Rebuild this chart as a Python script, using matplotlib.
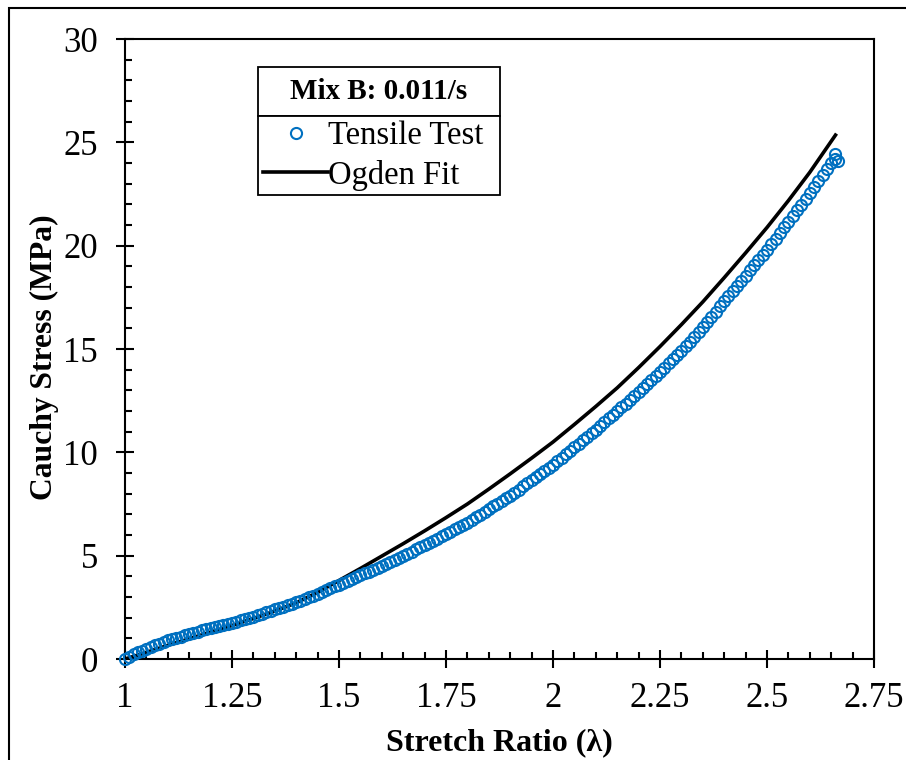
import matplotlib
matplotlib.use("Agg")
import matplotlib.pyplot as plt
from matplotlib.patches import Rectangle
from matplotlib.ticker import MultipleLocator

plt.rcParams["font.family"] = ["Liberation Serif", "DejaVu Serif"]

# tensile test (stretch ratio, cauchy stress MPa)
lam_test = [
    1.00, 1.01, 1.02, 1.03, 1.04, 1.05, 1.06, 1.07, 1.08, 1.09,
    1.10, 1.11, 1.12, 1.13, 1.14, 1.15, 1.16, 1.17, 1.18, 1.19,
    1.20, 1.21, 1.22, 1.23, 1.24, 1.25, 1.26, 1.27, 1.28, 1.29,
    1.30, 1.31, 1.32, 1.33, 1.34, 1.35, 1.36, 1.37, 1.38, 1.39,
    1.40, 1.41, 1.42, 1.43, 1.44, 1.45, 1.46, 1.47, 1.48, 1.49,
    1.50, 1.51, 1.52, 1.53, 1.54, 1.55, 1.56, 1.57, 1.58, 1.59,
    1.60, 1.61, 1.62, 1.63, 1.64, 1.65, 1.66, 1.67, 1.68, 1.69,
    1.70, 1.71, 1.72, 1.73, 1.74, 1.75, 1.76, 1.77, 1.78, 1.79,
    1.80, 1.81, 1.82, 1.83, 1.84, 1.85, 1.86, 1.87, 1.88, 1.89,
    1.90, 1.91, 1.92, 1.93, 1.94, 1.95, 1.96, 1.97, 1.98, 1.99,
    2.00, 2.01, 2.02, 2.03, 2.04, 2.05, 2.06, 2.07, 2.08, 2.09,
    2.10, 2.11, 2.12, 2.13, 2.14, 2.15, 2.16, 2.17, 2.18, 2.19,
    2.20, 2.21, 2.22, 2.23, 2.24, 2.25, 2.26, 2.27, 2.28, 2.29,
    2.30, 2.31, 2.32, 2.33, 2.34, 2.35, 2.36, 2.37, 2.38, 2.39,
    2.40, 2.41, 2.42, 2.43, 2.44, 2.45, 2.46, 2.47, 2.48, 2.49,
    2.50, 2.51, 2.52, 2.53, 2.54, 2.55, 2.56, 2.57, 2.58, 2.59,
    2.60, 2.61, 2.62, 2.63, 2.64, 2.65, 2.66, 2.66, 2.665,
]
stress_test = [
    0.00, 0.12, 0.22, 0.32, 0.41, 0.50, 0.58, 0.66, 0.74, 0.82,
    0.90, 0.96, 1.02, 1.08, 1.14, 1.20, 1.26, 1.32, 1.38, 1.44,
    1.50, 1.55, 1.60, 1.65, 1.70, 1.75, 1.81, 1.87, 1.93, 1.99,
    2.05, 2.12, 2.19, 2.26, 2.33, 2.40, 2.47, 2.54, 2.61, 2.68,
    2.75, 2.83, 2.91, 2.99, 3.07, 3.15, 3.24, 3.33, 3.42, 3.51,
    3.60, 3.69, 3.78, 3.87, 3.96, 4.05, 4.14, 4.23, 4.32, 4.41,
    4.50, 4.60, 4.70, 4.80, 4.90, 5.00, 5.10, 5.20, 5.30, 5.40,
    5.50, 5.61, 5.72, 5.83, 5.94, 6.05, 6.16, 6.27, 6.38, 6.49,
    6.60, 6.73, 6.86, 6.99, 7.12, 7.25, 7.38, 7.51, 7.64, 7.77,
    7.90, 8.05, 8.20, 8.35, 8.50, 8.65, 8.80, 8.95, 9.10, 9.25,
    9.40, 9.57, 9.74, 9.91, 10.08, 10.25, 10.42, 10.59, 10.76, 10.93,
    11.10, 11.28, 11.46, 11.64, 11.82, 12.00, 12.18, 12.36, 12.54, 12.72,
    12.90, 13.10, 13.30, 13.50, 13.70, 13.90, 14.10, 14.30, 14.50, 14.70,
    14.90, 15.13, 15.36, 15.60, 15.84, 16.08, 16.32, 16.56, 16.81, 17.06,
    17.30, 17.55, 17.80, 18.05, 18.30, 18.55, 18.80, 19.05, 19.30, 19.55,
    19.80, 20.07, 20.34, 20.61, 20.88, 21.15, 21.43, 21.71, 21.99, 22.28,
    22.57, 22.85, 23.13, 23.41, 23.70, 23.98, 24.20, 24.45, 24.10,
]

# ogden fit
lam_fit = [
    1.00, 1.05, 1.10, 1.15, 1.20, 1.25, 1.30, 1.35, 1.40, 1.45,
    1.50, 1.55, 1.60, 1.65, 1.70, 1.75, 1.80, 1.85, 1.90, 1.95,
    2.00, 2.05, 2.10, 2.15, 2.20, 2.25, 2.30, 2.35, 2.40, 2.45,
    2.50, 2.55, 2.60, 2.66,
]
stress_fit = [
    0.00, 0.32, 0.66, 0.98, 1.30, 1.62, 1.96, 2.32, 2.72, 3.22,
    3.80, 4.38, 4.98, 5.58, 6.20, 6.84, 7.50, 8.22, 8.96, 9.72,
    10.50, 11.35, 12.22, 13.12, 14.10, 15.12, 16.18, 17.28, 18.45, 19.65,
    20.88, 22.18, 23.55, 25.35,
]

fig = plt.figure(figsize=(9.06, 7.60), dpi=100)
ax = fig.add_axes([125 / 906, 1 - 659 / 760, 749 / 906, 620 / 760])

ax.plot(lam_test, stress_test, "o", ls="none", ms=8, mfc="none", mec="#0070C0",
        mew=1.5, label="Tensile Test", zorder=3, clip_on=False)
ax.plot(lam_fit, stress_fit, "-", color="black", lw=2.6, label="Ogden Fit", zorder=2)

ax.set_xlim(1, 2.75)
ax.set_ylim(0, 30)
ax.xaxis.set_minor_locator(MultipleLocator(0.05))
ax.yaxis.set_major_locator(MultipleLocator(5))
ax.yaxis.set_minor_locator(MultipleLocator(1))
ax.set_xticks([1, 1.25, 1.5, 1.75, 2, 2.25, 2.5, 2.75])
ax.set_xticklabels(["1", "1.25", "1.5", "1.75", "2", "2.25", "2.5", "2.75"])

for s in ax.spines.values():
    s.set_linewidth(1.5)
ax.tick_params(which="major", direction="inout", length=13, width=1.5,
               labelsize=25, top=False, right=False)
ax.tick_params(which="minor", direction="in", length=5, width=1.5,
               top=False, right=False)
ax.tick_params(axis="x", which="major", pad=10)
ax.tick_params(axis="y", which="major", pad=13)

ax.set_xlabel("Stretch Ratio (\u03bb)", fontsize=23, fontweight="bold")
ax.set_ylabel("Cauchy Stress (MPa)", fontsize=22.8, fontweight="bold")
ax.xaxis.set_label_coords(0.5, (659 - 743) / 620)
ax.xaxis.label.set_va("center")
ax.yaxis.set_label_coords((44 - 125) / 749, (659 - 357) / 620)
ax.yaxis.label.set_va("center")

# legend with a boxed title on top
lx0 = (258 - 125) / 749
lx1 = (500 - 125) / 749
ly_mid = (659 - 116) / 620
ly_top = (659 - 67) / 620
leg = ax.legend(loc="upper left", bbox_to_anchor=(lx0, ly_mid, lx1 - lx0, 0),
                mode="expand", borderaxespad=0, fontsize=23.5, frameon=True,
                fancybox=False, edgecolor="black", framealpha=1,
                handlelength=2.0, handletextpad=0.0, borderpad=0.15,
                labelspacing=0.25, numpoints=1)
leg.get_frame().set_linewidth(1.3)
leg.set_zorder(8)
ax.add_patch(Rectangle((lx0, ly_mid), lx1 - lx0, ly_top - ly_mid,
                       transform=ax.transAxes, facecolor="white",
                       edgecolor="black", lw=1.3, zorder=6))
ax.text((lx0 + lx1) / 2, (ly_mid + ly_top) / 2, "Mix B: 0.011/s",
        transform=ax.transAxes, ha="center", va="center", fontsize=21,
        fontweight="bold", zorder=7)

# outer frame (cropped on right/bottom in the original)
fig.patches.append(Rectangle((9 / 906, -0.05), 1.1, 1 - 8 / 760 + 0.05,
                             transform=fig.transFigure, fill=False,
                             edgecolor="black", lw=1.5))

fig.savefig("out.png", dpi=100)
